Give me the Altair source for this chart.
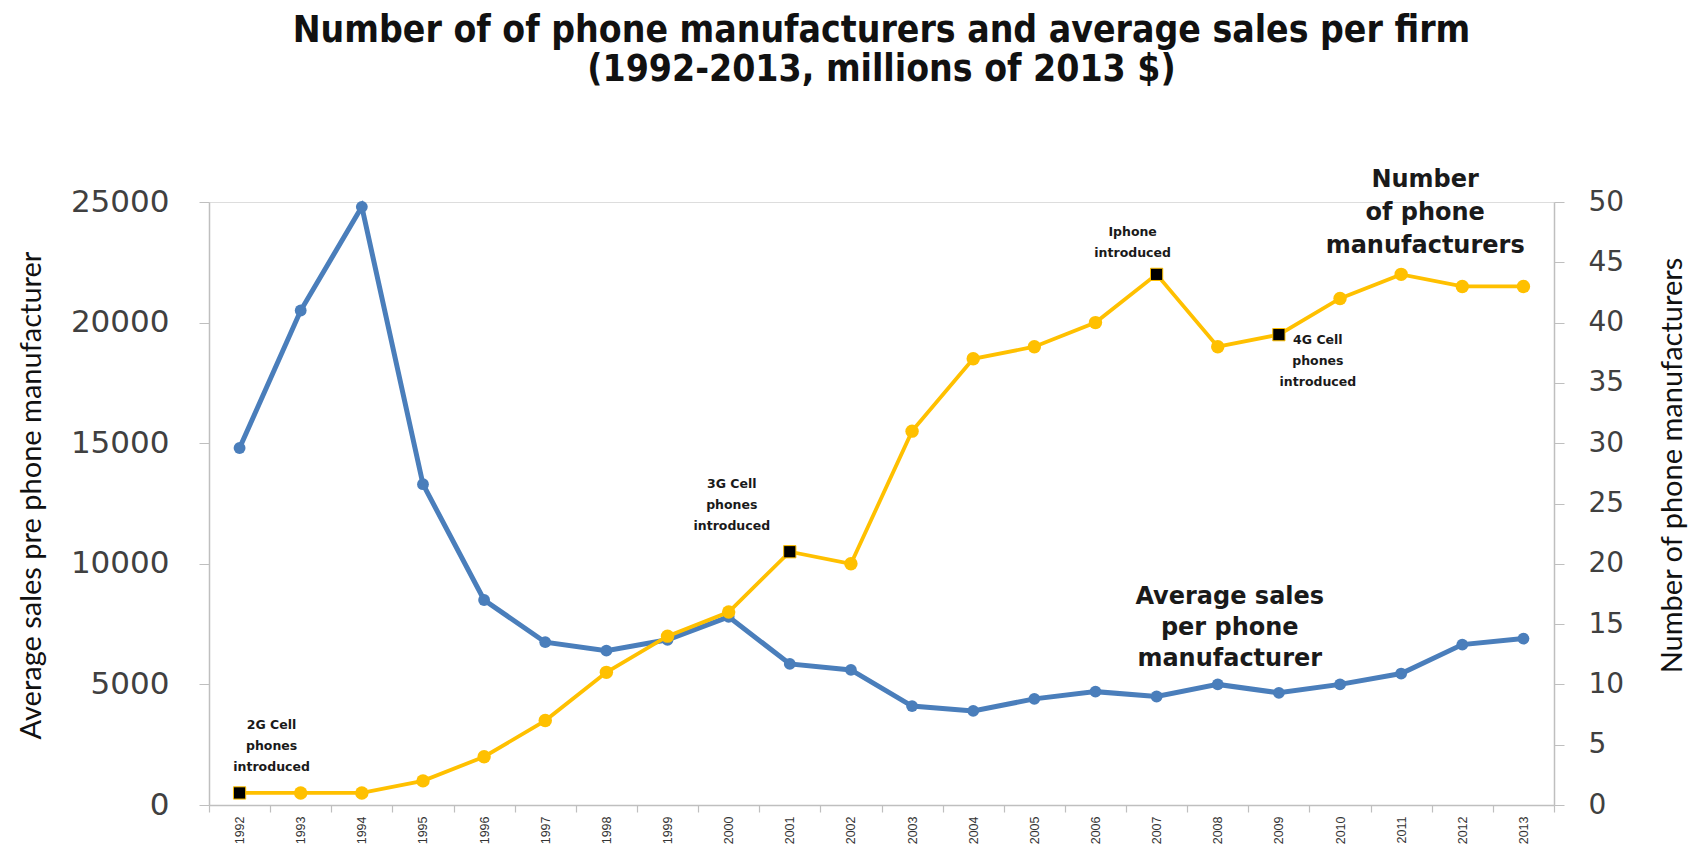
import altair as alt
import pandas as pd

# ---- data ----
years = [str(y) for y in range(1992, 2014)]
avg_sales = [14800, 20500, 24800, 13300, 8500, 6750, 6400, 6850, 7800, 5850, 5600,
             4100, 3900, 4400, 4700, 4500, 5000, 4650, 5000, 5450, 6650, 6900]
num_manuf = [1, 1, 1, 2, 4, 7, 11, 14, 16, 21, 20,
             31, 37, 38, 40, 44, 38, 39, 42, 44, 43, 43]
event_years = ["1992", "2001", "2007", "2009"]
event_labels = ["2G Cell\nphones\nintroduced",
                "3G Cell\nphones\nintroduced",
                "Iphone\nintroduced",
                "4G Cell\nphones\nintroduced"]
series_labels = ["Number\nof phone\nmanufacturers",
                 "Average sales\nper phone\nmanufacturer"]
left_ticks = [0, 5000, 10000, 15000, 20000, 25000]
right_ticks = [0, 5, 10, 15, 20, 25, 30, 35, 40, 45, 50]

df = pd.DataFrame({"year": years, "sales": avg_sales, "num": num_manuf})
df["event"] = df["year"].isin(event_years)
ev = df[df["event"]].copy()
ev["label"] = event_labels

NARROW = "Lato, Liberation Sans, sans-serif"
COND = "DejaVu Sans Condensed, DejaVu Sans, sans-serif"
WIDE = "DejaVu Sans, Verdana, sans-serif"
BLUE = "#4A7EBB"
GOLD = "#FFC000"
AXC = "#bfbfbf"

xenc = alt.X("year:O", bandPosition=0.5,
             scale=alt.Scale(type="band", paddingInner=0, paddingOuter=0),
             axis=alt.Axis(title=None, labelAngle=270, labelFont="Liberation Sans, Arial, sans-serif",
                           labelFontSize=12.5, labelColor="#333333", labelPadding=4,
                           tickBand="extent", tickSize=7, tickColor=AXC, domainColor=AXC,
                           domainWidth=1.5, tickWidth=1.2, grid=False))

ysales = alt.Y("sales:Q",
               scale=alt.Scale(domain=[0, 25000], nice=False),
               axis=alt.Axis(values=left_ticks, format="d", title="Average sales pre phone manufacturer",
                             titleFont=NARROW, titleFontSize=29, titleFontWeight="normal",
                             titleColor="#111111", titlePadding=24, titleY=293,
                             labelFont=WIDE, labelFontSize=31, labelColor="#404040",
                             labelPadding=30, tickSize=10, tickColor=AXC, domainColor=AXC,
                             domainWidth=1.5, grid=False, orient="left"))

ynum = alt.Y("num:Q",
             scale=alt.Scale(domain=[0, 50], nice=False),
             axis=alt.Axis(values=right_ticks, title="Number of phone manufacturers",
                           titleFont=NARROW, titleFontSize=29, titleFontWeight="normal",
                           titleColor="#111111", titlePadding=35, titleAngle=270,
                           titleBaseline="top", titleY=263,
                           labelFont=WIDE, labelFontSize=28, labelColor="#404040",
                           labelPadding=24, tickSize=10, tickColor=AXC, domainColor=AXC,
                           domainWidth=1.5, grid=False, orient="right"))

base = alt.Chart(df)

blue_line = base.mark_line(color=BLUE, strokeWidth=5).encode(x=xenc, y=ysales)
blue_pts = base.mark_point(color=BLUE, filled=True, size=140, opacity=1).encode(x=xenc, y=ysales)
avg_lab = alt.Chart(df[df["year"] == "2008"].assign(label=series_labels[1])).mark_text(
    font=WIDE, fontSize=24, fontWeight="bold", color="#1a1a1a", lineHeight=31, lineBreak="\n",
    align="center", baseline="middle", dx=12, dy=-87
).encode(x=xenc, y=ysales, text="label:N")

gold_line = base.mark_line(color=GOLD, strokeWidth=3.8).encode(x=xenc, y=ynum)
gold_pts = alt.Chart(df[~df["event"]]).mark_point(color=GOLD, filled=True, size=180, opacity=1).encode(x=xenc, y=ynum)
gold_sq = alt.Chart(ev).mark_point(shape="square", filled=True, color="black", size=150, opacity=1,
                                   stroke=GOLD, strokeWidth=1).encode(x=xenc, y=ynum)

ann_style = dict(font=WIDE, fontSize=12.5, fontWeight="bold", color="#1a1a1a", lineHeight=21,
                 lineBreak="\n", align="center", baseline="middle")
offsets = [(32, -68), (-58, -68), (-24, -42), (39, 5)]
ann_layers = []
for i, (dx, dy) in enumerate(offsets):
    ann_layers.append(
        alt.Chart(ev.iloc[[i]]).mark_text(dx=dx, dy=dy, **ann_style).encode(x=xenc, y=ynum, text="label:N")
    )

num_lab = alt.Chart(df[df["year"] == "2011"].assign(label=series_labels[0])).mark_text(
    font=WIDE, fontSize=24, fontWeight="bold", color="#1a1a1a", lineHeight=33, lineBreak="\n",
    align="center", baseline="middle", dx=24, dy=-94
).encode(x=xenc, y=ynum, text="label:N")

blue_layer = alt.layer(blue_line, blue_pts, avg_lab)
gold_layer = alt.layer(gold_line, gold_pts, gold_sq, *ann_layers, num_lab)

chart = alt.layer(blue_layer, gold_layer).resolve_scale(y="independent").properties(
    width=1345, height=603,
    autosize=alt.AutoSizeParams(type="none"),
    padding={"left": 201, "top": 194, "right": 137, "bottom": 39},
    title=alt.Title(["Number of of phone manufacturers  and average sales per firm",
                     "(1992-2013, millions of  2013 $)"],
                    font=COND, fontSize=37, fontWeight="bold", color="#111111",
                    anchor="middle", offset=79, lineHeight=39),
).configure_view(stroke=None).configure(background="white")

chart.save("out.html", embed_options={"renderer": "svg", "actions": False})
